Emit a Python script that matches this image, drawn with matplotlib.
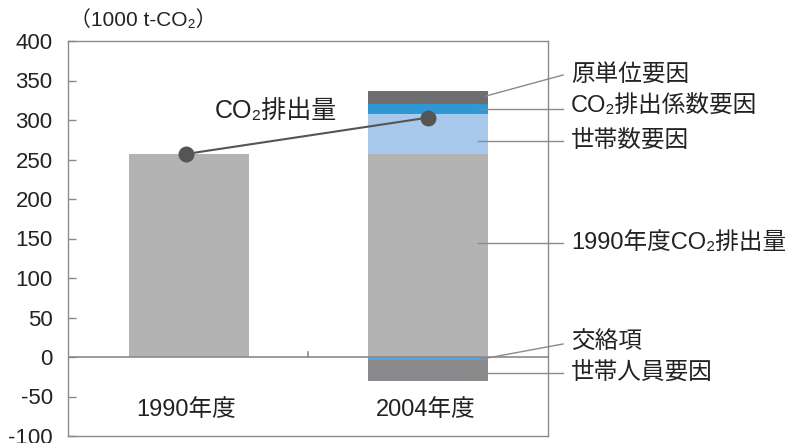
import matplotlib
matplotlib.use("Agg")
import matplotlib.pyplot as plt

plt.rcParams['font.family'] = ['Liberation Sans', 'Noto Sans CJK JP', 'DejaVu Sans']

categories = ['1990年度', '2004年度']
base_1990 = 257
# 2004 decomposition
base_2004 = 257
setai_su = 51        # 世帯数要因
co2_coef = 12.5      # CO2排出係数要因
gen_tan_i = 16.5     # 原単位要因
kouraku = -4         # 交絡項
setai_jin = -27      # 世帯人員要因
totals = [257, 303]  # CO2排出量
yticks = [400, 350, 300, 250, 200, 150, 100, 50, 0, -50, -100]

fig = plt.figure(figsize=(7.87, 4.43), dpi=100)
ax = fig.add_axes([68/787, 7/443, 480/787, 395/443])
ax.set_xlim(-0.506, 1.502)
ax.set_ylim(-100, 400)

w = 0.5
ax.bar(0, base_1990, width=w, color='#b3b3b4', zorder=2)
ax.bar(1, base_2004, width=w, color='#b3b3b4', zorder=2)
b = base_2004
ax.bar(1, setai_su, bottom=b, width=w, color='#a8c9eb', zorder=2); b += setai_su
ax.bar(1, co2_coef, bottom=b, width=w, color='#2f97d3', zorder=2); b += co2_coef
ax.bar(1, gen_tan_i, bottom=b, width=w, color='#6e6e70', zorder=2)
ax.bar(1, kouraku, bottom=0, width=w, color='#5ba3dd', zorder=2)
ax.bar(1, setai_jin, bottom=kouraku, width=w, color='#89898b', zorder=2)

ax.axhline(0, color='#8a8a8a', lw=1.2, zorder=3)
ax.plot([0.5, 0.5], [0, 6], color='#8a8a8a', lw=1.2, zorder=3)

ax.plot([-0.012, 1], totals, color='#555555', lw=1.5, zorder=4)
ax.scatter([-0.012, 1], totals, s=110, color='#555555', zorder=5)
ax.text(0.365, 311, 'CO₂排出量', fontsize=18, ha='center', va='center', color='#222222')

for i, c in enumerate(categories):
    ax.text(i - 0.01, -67, c, fontsize=17, ha='center', va='center', color='#222222')

ax.set_yticks(yticks)
ax.set_yticklabels([str(v) for v in yticks], fontsize=16, color='#222222',
                   va='center_baseline')
ax.tick_params(axis='y', direction='in', length=6, width=1.0, color='#8a8a8a', pad=11)
ax.set_xticks([])
for s in ax.spines.values():
    s.set_color('#8a8a8a')
    s.set_linewidth(1.0)

fig.text(70/787, 1 - 20/443, '（1000 t-CO₂）', fontsize=15, ha='left', va='center', color='#222222')

# right side annotations (figure pixel coords)
def px(x, y):
    return (x / 787, 1 - y / 443)

ann = [
    ('原単位要因', (486, 96), (563, 75), 75),
    ('CO₂排出係数要因', (478, 109), (563, 109), 107),
    ('世帯数要因', (478, 141), (563, 141), 141),
    ('1990年度CO₂排出量', (478, 243), (563, 243), 243),
    ('交絡項', (482, 359), (563, 344), 342),
    ('世帯人員要因', (478, 373), (563, 373), 373),
]
for label, p0, p1, ty in ann:
    x0, y0 = px(*p0)
    x1, y1 = px(*p1)
    fig.add_artist(plt.Line2D([x0, x1], [y0, y1], transform=fig.transFigure,
                              color='#8a8a8a', lw=1.0, zorder=6))
    tx, tyy = px(571, ty)
    fig.text(tx, tyy, label, fontsize=17, ha='left', va='center', color='#222222')

fig.savefig('out.png', dpi=100)
